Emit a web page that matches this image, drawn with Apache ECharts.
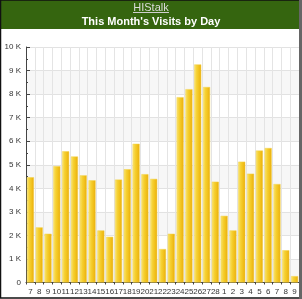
<!DOCTYPE html>
<html><head><meta charset="utf-8">
<script src="https://cdn.jsdelivr.net/npm/echarts@6/dist/echarts.min.js"></script>
<style>html,body{margin:0;padding:0;background:#fff}#c{width:302px;height:299px}</style>
</head><body><div id="c"></div>
<script>
var days = ['7','8','9','10','11','12','13','14','15','16','17','18','19','20','21','22','23','24','25','26','27','28','1','2','3','4','5','6','7','8','9'];
var visits = [4470,2340,2070,4940,5570,5350,4550,4340,2210,1940,4370,4810,5890,4600,4400,1420,2070,7870,8210,9260,8300,4280,2830,2210,5130,4620,5600,5710,4180,1370,270];
var yTicks = [0,1000,2000,3000,4000,5000,6000,7000,8000,9000,10000];

var chart = echarts.init(document.getElementById('c'), null, {renderer:'canvas'});
chart.setOption({
  animation:false,
  graphic:[
    {type:'rect', shape:{x:0,y:0,width:302,height:29}, style:{fill:'#35650f'}, z:-1},
    {type:'text', x:151, y:2, style:{text:'HIStalk', fill:'#dcdcdc', align:'center', verticalAlign:'top', font:'11px "Liberation Sans", Arial, sans-serif'}},
    {type:'line', shape:{x1:133,y1:12.5,x2:169,y2:12.5}, style:{stroke:'#d0d0d0', lineWidth:1}},
    {type:'text', x:151, y:16, style:{text:"This Month's Visits by Day", fill:'#ffffff', align:'center', verticalAlign:'top', font:'bold 11px "Liberation Sans", Arial, sans-serif'}},
    {type:'rect', shape:{x:0.5,y:0,width:299.5,height:298}, style:{fill:'none', stroke:'#111', lineWidth:1.5}, z:100},
    {type:'rect', shape:{x:299,y:0,width:3,height:299}, style:{fill:'#666'}, z:101}
  ],
  grid:{left:26, right:3, top:47, bottom:16.5, containLabel:false},
  xAxis:{
    type:'category', data:days, boundaryGap:true,
    axisLine:{lineStyle:{color:'#444', width:1}},
    axisTick:{show:true, length:2, lineStyle:{color:'#444'}, interval:0},
    axisLabel:{interval:0, fontSize:8, color:'#333', margin:5, fontFamily:'"Liberation Sans", Arial, sans-serif'},
    splitLine:{show:true, interval:0, lineStyle:{color:'#e4e4e4', width:1}}
  },
  yAxis:{
    type:'value', min:0, max:10000, interval:1000,
    axisLine:{show:true, lineStyle:{color:'#444', width:1}},
    axisTick:{show:true, inside:true, length:4, lineStyle:{color:'#444'}},
    minorTick:{show:true, splitNumber:2, length:2, lineStyle:{color:'#444'}},
    axisLabel:{fontSize:8, color:'#333', margin:5, fontFamily:'"Liberation Sans", Arial, sans-serif',
      formatter:function(v){return v===0?'0':(v/1000)+' K';}},
    splitLine:{show:true, lineStyle:{color:'#e2e2e2', width:1}},
    splitArea:{show:true, areaStyle:{color:['#f7f7f7','#ffffff']}}
  },
  series:[{
    type:'bar', data:visits, barCategoryGap:'20%',
    itemStyle:{
      color:new echarts.graphic.LinearGradient(0,0,1,0,[
        {offset:0,color:'#f8e57c'},{offset:0.35,color:'#f6d133'},{offset:0.75,color:'#f0bd17'},{offset:1,color:'#e7a70d'}]),
      borderColor:'#f3d24a', borderWidth:0.5
    }
  }]
});
</script></body></html>
